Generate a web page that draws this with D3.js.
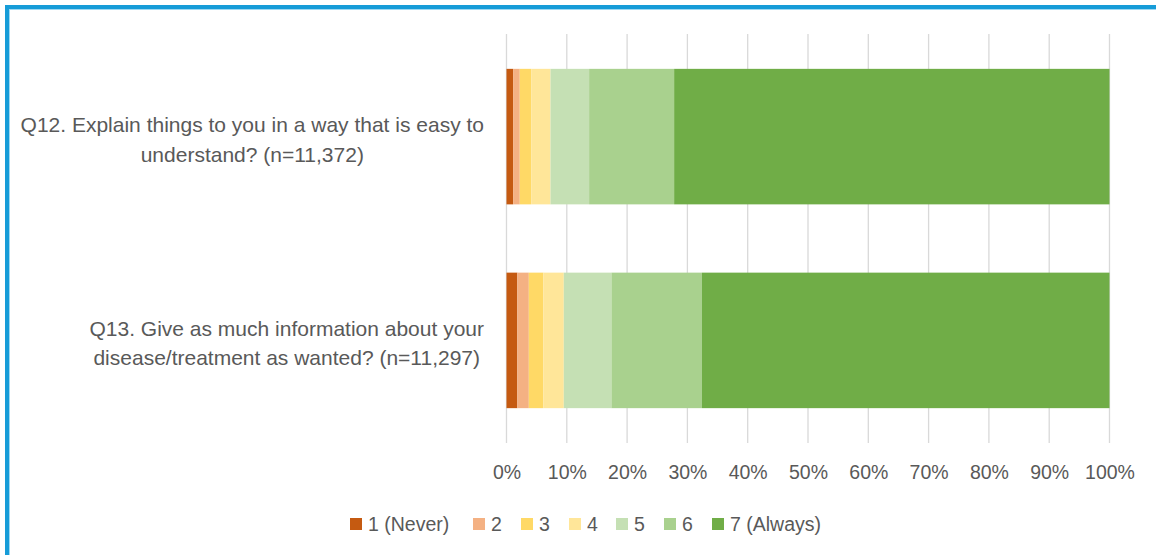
<!DOCTYPE html>
<html>
<head>
<meta charset="utf-8">
<script src="https://cdn.jsdelivr.net/npm/d3@7"></script>
<style>
  body { margin: 0; background: #fff; }
  svg { display: block; font-family: "Liberation Sans", Arial, sans-serif; }
</style>
</head>
<body>
<div id="chart"></div>
<script>
// chart data
var questions = [
  ["Q12. Explain things to you in a way that is easy to", "understand? (n=11,372)"],
  ["Q13. Give as much information about your", "disease/treatment as wanted? (n=11,297)"]
];
var seriesNames = ["1 (Never)", "2", "3", "4", "5", "6", "7 (Always)"];
var seriesColors = ["#C55A11", "#F4B183", "#FFD966", "#FFE699", "#C5E0B4", "#A9D18E", "#70AD47"];
var q12Values = [1.1, 1.1, 1.9, 3.2, 6.4, 14.1, 72.2];
var q13Values = [1.8, 1.9, 2.4, 3.4, 7.9, 15.0, 67.6];
var tickValues = [0, 10, 20, 30, 40, 50, 60, 70, 80, 90, 100];

var W = 1156, H = 555;
var svg = d3.select('#chart').append('svg')
    .attr('width', W)
    .attr('height', H);

// blue frame (runs off right/bottom edge like the screenshot)
svg.append('rect')
    .attr('x', 7).attr('y', 7)
    .attr('width', W + 20).attr('height', H + 20)
    .attr('fill', 'none')
    .attr('stroke', '#169CD8')
    .attr('stroke-width', 4);
svg.append('rect')
    .attr('x', 9.5).attr('y', 9.5)
    .attr('width', W + 20).attr('height', H + 20)
    .attr('fill', 'none')
    .attr('stroke', '#9ED8F2')
    .attr('stroke-width', 1);

var x = d3.scaleLinear().domain([0, 100]).range([506.5, 1109.5]);
var y = d3.scaleBand()
    .domain(d3.range(questions.length))
    .range([34, 443])
    .paddingInner(0.335)
    .paddingOuter(0.171);

// gridlines
svg.append('g').selectAll('line')
    .data(tickValues)
    .enter().append('line')
    .attr('x1', d => x(d)).attr('x2', d => x(d))
    .attr('y1', 34).attr('y2', 443)
    .attr('stroke', '#D9D9D9')
    .attr('stroke-width', 1.3);

// stacked bars
var rows = [q12Values, q13Values];
rows.forEach((vals, qi) => {
    var start = 0;
    var segs = vals.map((v, si) => {
        var s = {x0: start, x1: start + v, c: seriesColors[si]};
        start += v;
        return s;
    });
    svg.append('g').selectAll('rect')
        .data(segs)
        .enter().append('rect')
        .attr('x', d => x(d.x0))
        .attr('y', y(qi))
        .attr('width', d => x(Math.min(d.x1, 100)) - x(d.x0))
        .attr('height', y.bandwidth())
        .attr('fill', d => d.c);
});

// x axis labels
var axis = d3.axisBottom(x)
    .tickValues(tickValues)
    .tickFormat(d => d + '%')
    .tickSize(0)
    .tickPadding(0);
var ax = svg.append('g')
    .attr('transform', 'translate(0,461)')
    .call(axis);
ax.select('.domain').remove();
ax.selectAll('text')
    .attr('fill', '#595959')
    .attr('font-size', 19.5)
    .attr('font-family', '"Liberation Sans", Arial, sans-serif')
    .attr('dy', '0.9em');

// category labels: lines centred on each other, block right-aligned
var labelRight = 484;
questions.forEach((lines, qi) => {
    var g = svg.append('g');
    var cy = y(qi) + y.bandwidth() / 2 + 3;
    var texts = g.selectAll('text')
        .data(lines)
        .enter().append('text')
        .attr('y', (d, i) => cy + (i - (lines.length - 1) / 2) * 29.5)
        .attr('dy', '0.35em')
        .attr('fill', '#595959')
        .attr('font-size', 21)
        .attr('text-anchor', 'middle')
        .text(d => d);
    var maxW = d3.max(texts.nodes(), n => n.getComputedTextLength());
    texts.attr('x', labelRight - maxW / 2);
});

// legend
var legendX = [350, 473, 521, 569, 616, 664, 712];
var leg = svg.append('g').selectAll('g')
    .data(seriesNames)
    .enter().append('g')
    .attr('transform', (d, i) => 'translate(' + legendX[i] + ',524)');
leg.append('rect')
    .attr('x', 0).attr('y', -6)
    .attr('width', 12).attr('height', 12)
    .attr('fill', (d, i) => seriesColors[i]);
leg.append('text')
    .attr('x', 18)
    .attr('dy', '0.35em')
    .attr('fill', '#595959')
    .attr('font-size', 19.5)
    .text(d => d);
</script>
</body>
</html>
